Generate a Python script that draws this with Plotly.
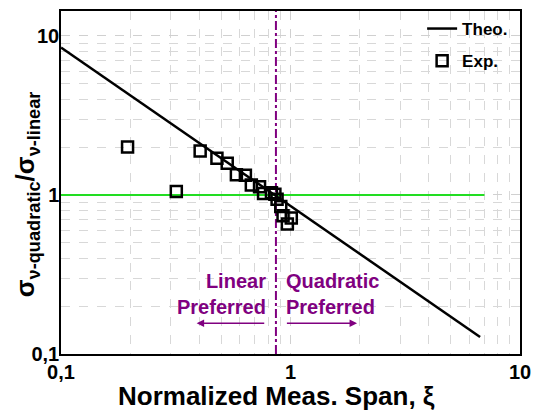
import plotly.graph_objects as go
import numpy as np

# Data
theo_x = [0.1, 6.7]
theo_y = [8.45, 0.128]
exp_x = [0.195, 0.318, 0.404, 0.478, 0.530, 0.581, 0.636, 0.675, 0.733, 0.763,
         0.826, 0.855, 0.874, 0.907, 0.928, 1.008, 0.969]
exp_y = [2.00, 1.05, 1.89, 1.70, 1.58, 1.34, 1.33, 1.155, 1.127, 1.02,
         1.03, 1.01, 0.94, 0.845, 0.739, 0.715, 0.656]
ref_x = [0.1, 7.0]
ref_y = [1.0, 1.0]
boundary_x = 0.864
xtick_vals = [0.1, 1, 10]
xtick_text = ["0,1", "1", "10"]
ytick_vals = [0.1, 1, 10]
ytick_text = ["0,1", "1", "10"]
minor_vals = [m * d for d in (0.1, 1, 10) for m in range(2, 10)]

purple = "#800080"
font = "Liberation Sans, Arial, sans-serif"

fig = go.Figure()
fig.add_trace(go.Scatter(x=ref_x, y=ref_y, mode="lines",
                         line=dict(color="#22dd22", width=2), showlegend=False))
fig.add_trace(go.Scatter(x=[boundary_x, boundary_x], y=[0.1, 14.3], mode="lines",
                         line=dict(color=purple, width=2, dash="dashdot"), showlegend=False))
fig.add_trace(go.Scatter(x=theo_x, y=theo_y, mode="lines", name="Theo.", legendgroup="a",
                         line=dict(color="black", width=2.5)))
fig.add_trace(go.Scatter(x=exp_x, y=exp_y, mode="markers", name="Exp.", legendgroup="b",
                         marker=dict(symbol="square-open", size=11, color="black",
                                     line=dict(width=2.5, color="black"))))

grid = dict(gridcolor="#d0d0d0", griddash="dash", gridwidth=1,
            minor=dict(showgrid=True, tickvals=minor_vals, gridcolor="#d8d8d8",
                       griddash="dash", gridwidth=1, ticks=""))

fig.update_xaxes(type="log", range=[-1, 1], tickvals=xtick_vals, ticktext=xtick_text,
                 showline=True, linecolor="black", linewidth=1.5, mirror=True,
                 ticks="", ticklen=0, ticklabeloverflow="allow", ticklabelstandoff=-1,
                 tickfont=dict(family=font, size=20, color="black", weight="bold"),
                 zeroline=False, **grid)
fig.update_yaxes(type="log", range=[-1, 1.156], tickvals=ytick_vals, ticktext=ytick_text,
                 showline=True, linecolor="black", linewidth=1.5, mirror=True,
                 ticks="", ticklen=0, ticklabeloverflow="allow", ticklabelstandoff=-4,
                 tickfont=dict(family=font, size=20, color="black", weight="bold"),
                 zeroline=False, **grid)

# axis titles
fig.add_annotation(x=(278 - 61) / 463, y=(354 - 396) / 345, xref="paper", yref="paper",
                   text="Normalized Meas. Span, ξ", showarrow=False,
                   xanchor="center", yanchor="middle",
                   font=dict(family=font, size=26, color="black", weight="bold"))
fig.add_annotation(x=(27 - 61) / 463, y=(354 - 193) / 345, xref="paper", yref="paper",
                   text="σ<sub>ν-quadratic</sub>/σ<sub>ν-linear</sub>", showarrow=False,
                   textangle=-90, xanchor="center", yanchor="middle",
                   font=dict(family=font, size=26, color="black", weight="bold"))

ann_font = dict(family=font, size=20, color=purple, weight="bold")
fig.add_annotation(x=np.log10(0.80), y=np.log10(0.24), xref="x", yref="y",
                   text="Linear<br>Preferred", showarrow=False, xanchor="right",
                   align="right", font=ann_font)
fig.add_annotation(x=np.log10(0.94), y=np.log10(0.24), xref="x", yref="y",
                   text="Quadratic<br>Preferred", showarrow=False, xanchor="left",
                   align="left", font=ann_font)
fig.add_annotation(x=np.log10(0.39), y=np.log10(0.156), ax=np.log10(0.78), ay=np.log10(0.156),
                   xref="x", yref="y", axref="x", ayref="y", text="", showarrow=True,
                   arrowhead=2, arrowsize=1, arrowwidth=1.5, arrowcolor=purple)
fig.add_annotation(x=np.log10(1.95), y=np.log10(0.156), ax=np.log10(0.95), ay=np.log10(0.156),
                   xref="x", yref="y", axref="x", ayref="y", text="", showarrow=True,
                   arrowhead=2, arrowsize=1, arrowwidth=1.5, arrowcolor=purple)

fig.update_layout(width=540, height=410, margin=dict(l=61, r=16, t=9, b=56),
                  paper_bgcolor="white", plot_bgcolor="white",
                  legend=dict(x=0.985, y=1.0, xanchor="right", yanchor="top",
                              bgcolor="rgba(0,0,0,0)", tracegroupgap=7,
                              font=dict(family=font, size=17, color="black", weight="bold")))

fig.write_html("out.html", config={"displayModeBar": False},
               post_script="document.body.style.margin='0';")
